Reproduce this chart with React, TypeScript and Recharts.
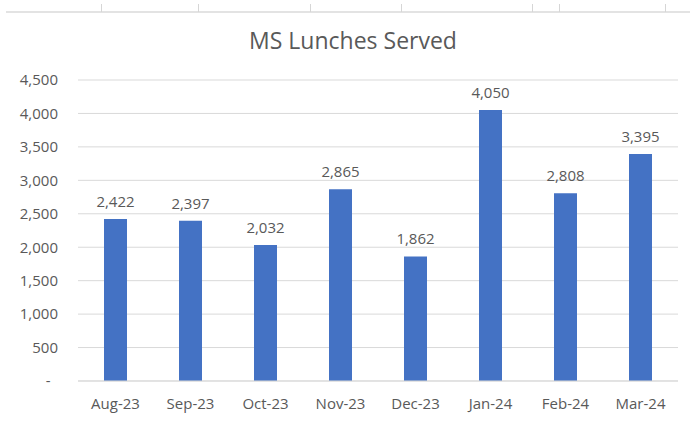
import React from "react";
import { BarChart, Bar, XAxis, YAxis, CartesianGrid, LabelList } from "recharts";

const months = ["Aug-23", "Sep-23", "Oct-23", "Nov-23", "Dec-23", "Jan-24", "Feb-24", "Mar-24"];
const lunches = [2422, 2397, 2032, 2865, 1862, 4050, 2808, 3395];
const yTicks = [0, 500, 1000, 1500, 2000, 2500, 3000, 3500, 4000, 4500];
const sheetTicks = [101, 198, 310, 401, 532, 559, 665];

const data = months.map((m, i) => ({ month: m, value: lunches[i] }));

const FONT = "'Open Sans', 'Liberation Sans', sans-serif";
const TEXT = "#595959";

const fmt = (v: number) => (v === 0 ? "-\u2002" : v.toLocaleString("en-US"));

export default function App() {
  return (
    <div style={{ position: "absolute", left: 0, top: 0, width: 690, height: 421, background: "#fff", fontFamily: FONT }}>
      <div style={{ position: "absolute", left: 6, top: 11, width: 684, height: 2, background: "#E3E3E3" }} />
      {sheetTicks.map((x) => (
        <div key={x} style={{ position: "absolute", left: x, top: 4, width: 1, height: 8, background: "#D6D6D6" }} />
      ))}
      <div
        style={{
          position: "absolute",
          left: 353,
          top: 25,
          transform: "translateX(-50%)",
          fontSize: 23,
          color: TEXT,
          whiteSpace: "nowrap",
          lineHeight: "30px",
        }}
      >
        MS Lunches Served
      </div>
      <BarChart width={690} height={421} data={data} margin={{ top: 80, right: 12, bottom: 10, left: 18 }}>
        <CartesianGrid vertical={false} stroke="#D9D9D9" />
        <XAxis
          dataKey="month"
          height={30}
          tickLine={false}
          tickSize={0}
          tickMargin={17}
          axisLine={{ stroke: "#D9D9D9" }}
          tick={{ fill: TEXT, fontSize: 15, fontFamily: FONT }}
          interval={0}
        />
        <YAxis
          width={60}
          domain={[0, 4500]}
          ticks={yTicks}
          tickFormatter={fmt}
          axisLine={false}
          tickLine={false}
          tickSize={0}
          tickMargin={20}
          tick={{ fill: TEXT, fontSize: 15, fontFamily: FONT }}
          interval={0}
        />
        <Bar dataKey="value" fill="#4472C4" barSize={23} isAnimationActive={false}>
          <LabelList
            dataKey="value"
            position="top"
            offset={12}
            formatter={(v: number) => v.toLocaleString("en-US")}
            style={{ fill: TEXT, fontSize: 15, fontFamily: FONT }}
          />
        </Bar>
      </BarChart>
    </div>
  );
}
